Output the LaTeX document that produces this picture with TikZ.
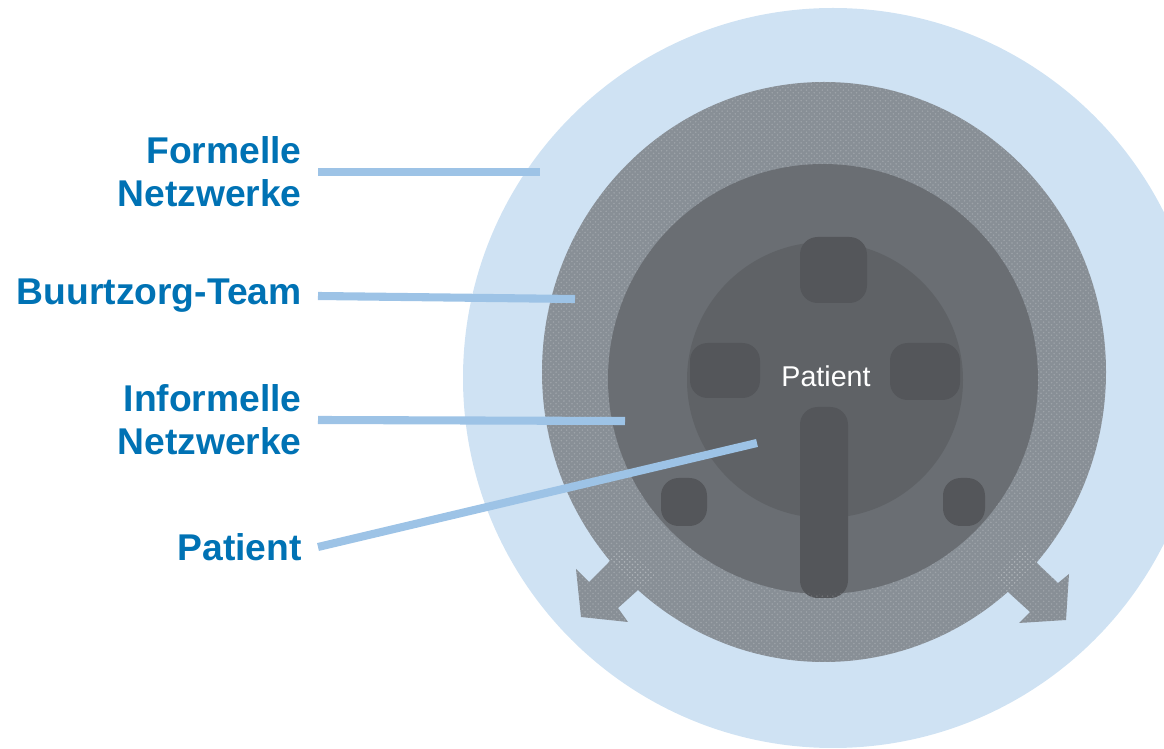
\documentclass[tikz,border=0pt]{standalone}
\usepackage{fontspec}
\setmainfont{Liberation Sans}
\usetikzlibrary{patterns}
\definecolor{ringblue}{RGB}{207,226,243}
\definecolor{lineblue}{RGB}{157,195,230}
\definecolor{labelblue}{RGB}{0,114,180}
\definecolor{teamgrey}{RGB}{136,143,150}
\definecolor{infogrey}{RGB}{106,110,115}
\definecolor{patgrey}{RGB}{95,98,102}
\definecolor{figgrey}{RGB}{84,86,90}
\begin{document}
\begin{tikzpicture}[x=0.02cm,y=-0.02cm,
  lbl/.style={anchor=east,align=right,inner xsep=0.32cm,inner ysep=0pt,
    text=labelblue,font=\fontsize{21.2}{24.4}\selectfont\bfseries},
  conn/.style={draw=lineblue,line width=4.6pt},
  blob/.style={fill=figgrey,rounded corners=10pt},
  texture/.style={pattern=crosshatch dots,pattern color=white,opacity=0.18}]
\useasboundingbox (0,0) rectangle (1164,749);
\clip (0,0) rectangle (1164,749);

% Rings
\fill[ringblue] (833,378) circle (370);
\fill[teamgrey] (824,372) ellipse (282 and 290);
\fill[infogrey] (823,379) circle (215);
\fill[patgrey] (825,380) circle (138);

% Outward arrows
\fill[teamgrey] (622,545) -- (608,563) -- (589,582) -- (576,569) -- (581,617)
  -- (628,622) -- (618,608) -- (638,590) -- (655,575) -- cycle;
\fill[teamgrey] (1025,545) -- (1038,564) -- (1058,583) -- (1069,574) -- (1066,620)
  -- (1019,623) -- (1030,612) -- (1008,592) -- (995,577) -- cycle;

% Figure in the middle
\fill[blob] (800,237) rectangle (867,303);
\fill[blob] (690,343) rectangle (760,398);
\fill[blob] (890,343) rectangle (960,400);
\fill[blob] (800,407) rectangle (848,598);
\fill[blob] (661,478) rectangle (707,526);
\fill[blob] (943,478) rectangle (985,526);

% Texture on the team ring
\fill[texture,even odd rule] (824,372) ellipse (282 and 290) (823,379) circle (215);
\fill[texture] (622,545) -- (608,563) -- (589,582) -- (576,569) -- (581,617)
  -- (628,622) -- (618,608) -- (638,590) -- (655,575) -- cycle;
\fill[texture] (1025,545) -- (1038,564) -- (1058,583) -- (1069,574) -- (1066,620)
  -- (1019,623) -- (1030,612) -- (1008,592) -- (995,577) -- cycle;

\node[text=white,font=\fontsize{16.3}{18}\selectfont] (patient) at (826,376) {Patient};

% Labels
\foreach \n/\y/\txt in {formell/172/{Formelle\\Netzwerke}, team/296/{Buurtzorg-Team},
    informell/420/{Informelle\\Netzwerke}, pat/547/{Patient}}
  \node[lbl] (\n) at (318,\y) {\txt};

% Connector ends
\coordinate (formellEnd) at (540,172);
\coordinate (teamEnd) at (575,299);
\coordinate (informellEnd) at (625,421);
\coordinate (patEnd) at (757,443);

\foreach \n in {formell, team, informell, pat}
  \draw[conn] (\n.east) -- (\n End);
\end{tikzpicture}
\end{document}
